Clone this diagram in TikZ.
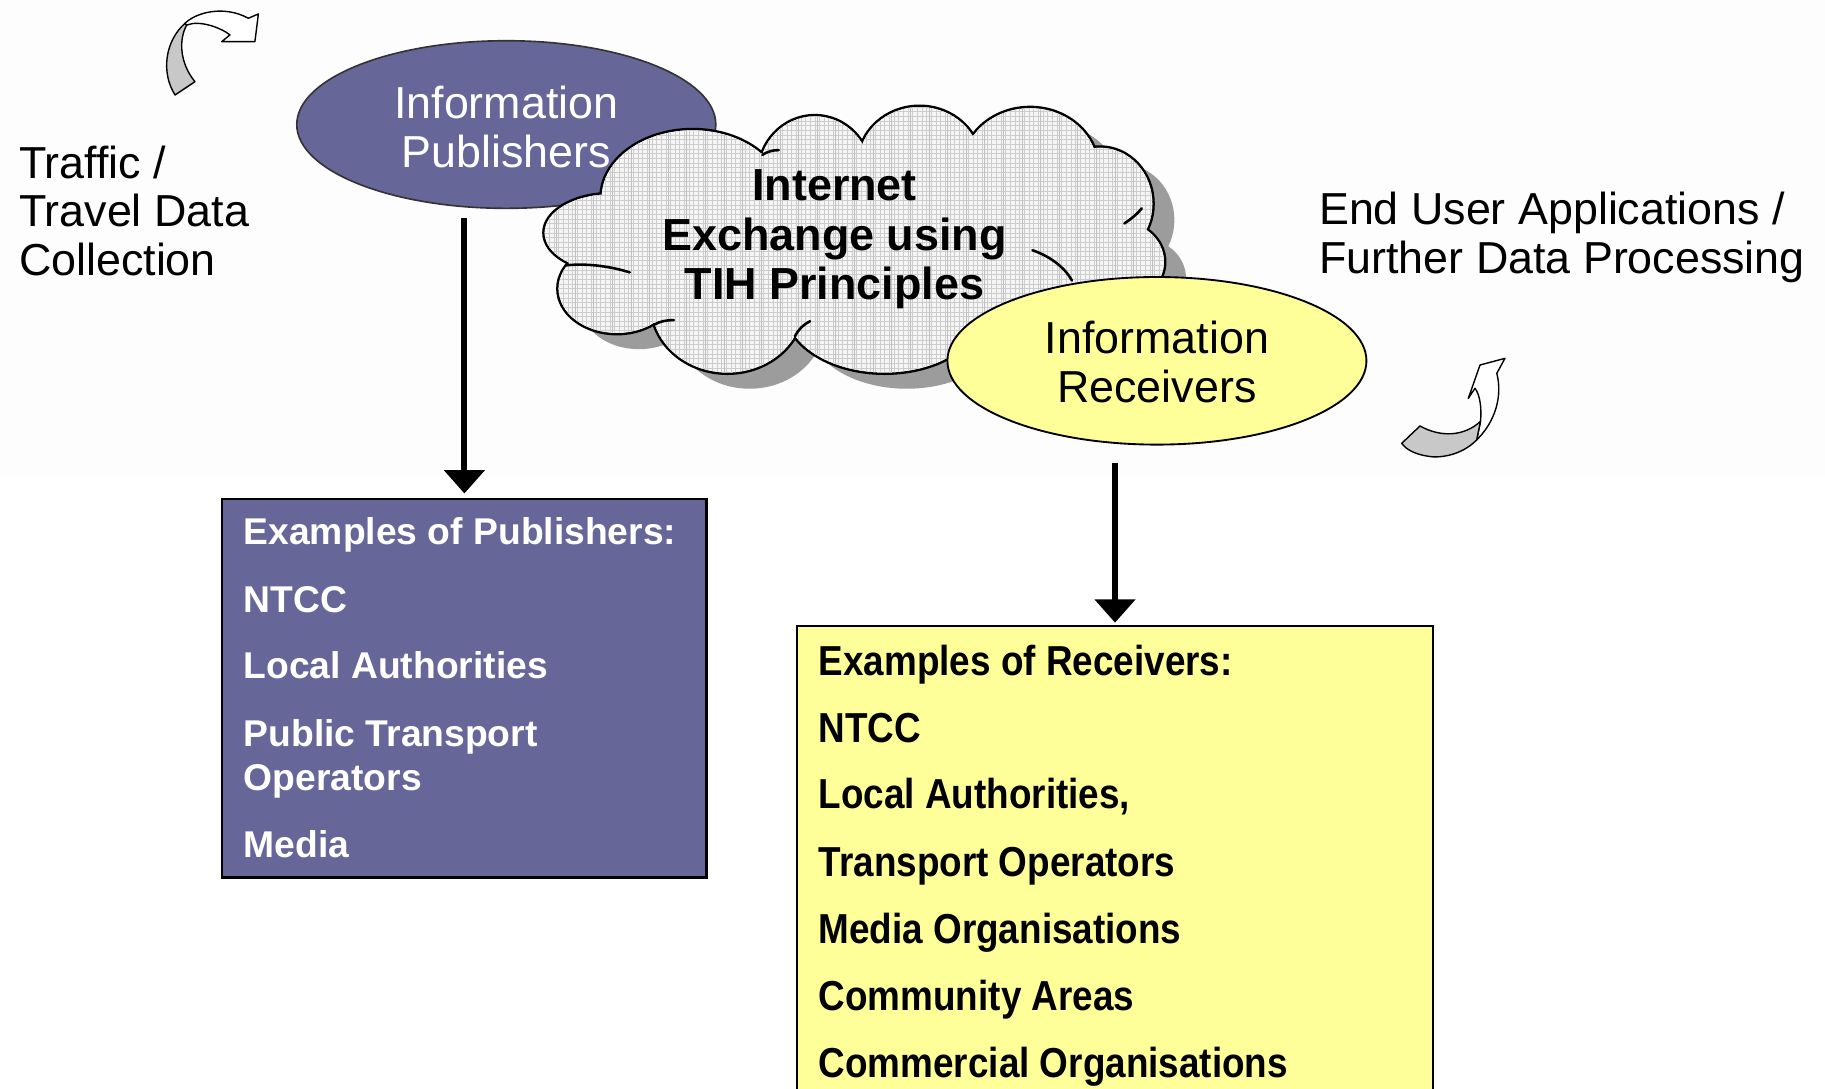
\documentclass[tikz,border=0pt]{standalone}
\usepackage{fontspec}
\setmainfont{Liberation Sans}
\newfontfamily\condfont{Liberation Sans}[FakeStretch=0.88]
\usetikzlibrary{arrows.meta,calc,shapes.geometric}
\definecolor{pubblue}{HTML}{666699}
\definecolor{recyellow}{HTML}{FFFF99}
\definecolor{shadowgray}{HTML}{9C9C9C}
\definecolor{arrowgray}{HTML}{C8C8C8}
\definecolor{gridgray}{HTML}{CDCDCD}
\begin{document}
\begin{tikzpicture}[x=0.5pt,y=-0.5pt,
  eltxt/.style={inner sep=0pt, anchor=base, font=\fontsize{19.25}{22}\selectfont},
  lbltxt/.style={inner sep=0pt, anchor=base west, font=\fontsize{19.25}{22}\selectfont},
  pubtxt/.style={inner sep=0pt, anchor=base west, text=white, font=\fontsize{16}{19}\selectfont\bfseries},
  rectxt/.style={inner sep=0pt, anchor=base west, font=\condfont\fontsize{18}{21}\selectfont\bfseries},
  cloudtxt/.style={inner sep=0pt, anchor=base, font=\fontsize{19.3}{22}\selectfont\bfseries},
  bigarrow/.style={line width=2.6pt, -{Triangle[width=17pt,length=10pt]}},
  blockarrow/.style={draw=black, line width=0.6pt, line join=round},
  ellnode/.style={ellipse, inner sep=0pt, minimum width=180pt, minimum height=72pt},
  boxnode/.style={draw=black, line width=1pt, inner sep=0pt, anchor=north west},
  innerstroke/.style={line width=1.1pt, line cap=round},
]
\useasboundingbox (0,0) rectangle (1568,935);
\fill[black!0.8] (0,0) rectangle (1568,408);

\def\cloudlobes{(735,205) ellipse [x radius=100pt, y radius=40pt]
  (595,170) ellipse [x radius=39pt, y radius=29pt]
  (700,150) ellipse [x radius=24pt, y radius=25pt]
  (790,140) ellipse [x radius=26pt, y radius=24pt]
  (885,145) ellipse [x radius=29pt, y radius=26pt]
  (945,175) ellipse [x radius=22.5pt, y radius=24pt]
  (960,225) ellipse [x radius=20pt, y radius=17.5pt]
  (885,262) ellipse [x radius=30pt, y radius=22.5pt]
  (760,265) ellipse [x radius=42.5pt, y radius=27.5pt]
  (625,262) ellipse [x radius=32.5pt, y radius=29pt]
  (530,248) ellipse [x radius=25pt, y radius=19pt]
  (525,200) ellipse [x radius=28.5pt, y radius=16.5pt]}

% publishers ellipse
\node[ellnode, draw=black!80, line width=0.7pt, fill=pubblue] (pubell) at (435,107) {};
\node[eltxt, text=white] (publ1) at (435,102) {Information};
\node[eltxt, text=white] (publ2) at (435,144) {Publishers};

% cloud with shadow
\fill[shadowgray, shift={(19,14)}] \cloudlobes;
\draw[line width=2.2pt] \cloudlobes;
\fill[white] \cloudlobes;
\begin{scope}
  \clip \cloudlobes;
  \fill[black!4] (460,80) rectangle (1010,340);
  \foreach \i in {460,464,...,1010} \draw[gridgray, line width=0.2pt] (\i,80) -- (\i,340);
  \foreach \j in {80,84,...,340} \draw[gridgray, line width=0.2pt] (460,\j) -- (1010,\j);
  \foreach \i in {462,478,...,1010} \draw[black!25, line width=0.25pt] (\i,80) -- (\i,340);
\end{scope}
\draw[innerstroke] (486,228) .. controls (505,226) and (525,229) .. (541,234);
\draw[innerstroke] (562,279) .. controls (567,276) and (573,275) .. (579,275);
\draw[innerstroke] (683,289) .. controls (686,283) and (690,279) .. (696,276);
\draw[innerstroke] (966,192) .. controls (972,188) and (977,184) .. (981,179);
\draw[innerstroke] (887,215) .. controls (902,220) and (915,230) .. (921,241);
\draw[innerstroke] (655,133) .. controls (660,130) and (664,129) .. (669,129);
\node[cloudtxt] (cl1) at (717,172) {Internet};
\node[cloudtxt] (cl2) at (717,215) {Exchange using};
\node[cloudtxt] (cl3) at (717,257) {TIH Principles};

% receivers ellipse
\node[ellnode, draw=black, line width=0.8pt, fill=recyellow] (recell) at (994,310) {};
\node[eltxt] (recl1) at (994,304) {Information};
\node[eltxt] (recl2) at (994,346) {Receivers};

% side labels
\node[lbltxt] (tr1) at (16,153) {Traffic /};
\node[lbltxt] (tr2) at (16,195) {Travel Data};
\node[lbltxt] (tr3) at (16,237) {Collection};
\node[lbltxt] (eu1) at (1133,193) {End User Applications /};
\node[lbltxt] (eu2) at (1133,235) {Further Data Processing};

% boxes
\node[boxnode, fill=pubblue, minimum width=208pt, minimum height=162.5pt] (pubbox) at (190,428) {};
\node[boxnode, fill=recyellow, minimum width=273pt, minimum height=210pt] (recbox) at (684,537) {};

\node[pubtxt] (pb1) at (209,468) {Examples of Publishers:};
\node[pubtxt] (pb2) at (209,526) {NTCC};
\node[pubtxt] (pb3) at (209,583) {Local Authorities};
\node[pubtxt] (pb4) at (209,641) {Public Transport};
\node[pubtxt] (pb5) at (209,679) {Operators};
\node[pubtxt] (pb6) at (209,737) {Media};

\node[rectxt] (rb1) at (703,580) {Examples of Receivers:};
\node[rectxt] (rb2) at (703,638) {NTCC};
\node[rectxt] (rb3) at (703,695) {Local Authorities,};
\node[rectxt] (rb4) at (703,753) {Transport Operators};
\node[rectxt] (rb5) at (703,811) {Media Organisations};
\node[rectxt] (rb6) at (703,868) {Community Areas};
\node[rectxt] (rb7) at (703,926) {Commercial Organisations};

% arrows
\draw[bigarrow, shorten >=2pt] ($(pubbox.north |- pubell.south)+(0,8)$) -- (pubbox.north);
\draw[bigarrow, shorten >=1pt] ($(recbox.north |- recell.south)+(0,15)$) -- (recbox.north);

% curved block arrow, top left
\filldraw[blockarrow, fill=arrowgray] (150.4,81.6) .. controls (138,62) and (142,35) .. (159,20)
  -- (160.4,21.5) .. controls (153,35) and (155,55) .. (167.5,70.2) -- cycle;
\filldraw[blockarrow, fill=white] (159,20) .. controls (168,11) and (192,4) .. (213.4,15.7)
  -- (222,12) -- (219,35.8) -- (190.5,35.8) -- (197.6,30)
  .. controls (190,24) and (172,17) .. (160.4,21.5) -- cycle;

% curved block arrow, bottom right
\filldraw[blockarrow, fill=white] (1272,362) .. controls (1273,352) and (1272,340) .. (1267.3,333.6)
  -- (1261.5,342.3) -- (1271.6,313.6) -- (1293,307.9) -- (1286,320.8)
  .. controls (1291,340) and (1285,362) .. (1268.7,378) -- cycle;
\filldraw[blockarrow, fill=arrowgray] (1204.3,380.9) -- (1220,366)
  .. controls (1238,376) and (1258,375) .. (1272,362) -- (1268.7,378)
  .. controls (1255,392) and (1235,394) .. (1225.8,391.8)
  .. controls (1215,390) and (1208,386) .. (1204.3,380.9) -- cycle;
\end{tikzpicture}
\end{document}
